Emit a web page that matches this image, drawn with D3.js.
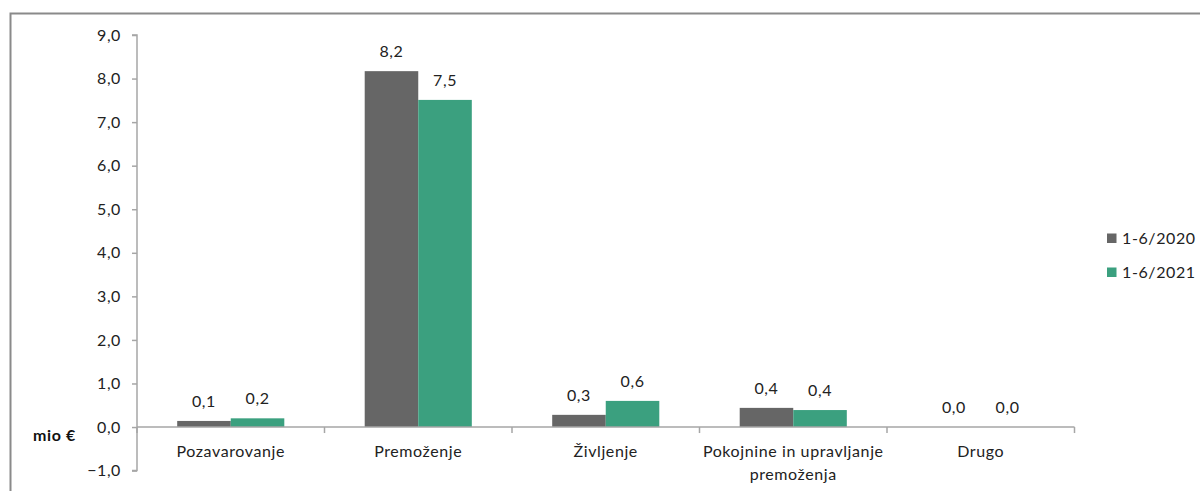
<!DOCTYPE html>
<html><head><meta charset="utf-8">
<script src="https://cdn.jsdelivr.net/npm/d3@7"></script>
<style>
html,body{margin:0;padding:0;background:#fff;}
svg{display:block;font-family:Lato,"Open Sans",sans-serif;}
svg text{letter-spacing:0.6px;}
</style></head>
<body>
<svg id="chart" width="1200" height="491"></svg>
<script>
const categories = ["Pozavarovanje", "Premoženje", "Življenje", "Pokojnine in upravljanje premoženja", "Drugo"];
const seriesNames = ["1-6/2020", "1-6/2021"];
const values2020 = [0.14, 8.17, 0.28, 0.44, 0.0];
const values2021 = [0.20, 7.51, 0.60, 0.39, 0.0];
const labels2020 = ["0,1", "8,2", "0,3", "0,4", "0,0"];
const labels2021 = ["0,2", "7,5", "0,6", "0,4", "0,0"];
const yTicks = [-1, 0, 1, 2, 3, 4, 5, 6, 7, 8, 9];
const colors = ["#666666", "#3BA07F"];

const svg = d3.select("#chart");
// outer border
svg.append("path").attr("d", "M10.5,491 L10.5,13.5 L1200,13.5")
  .attr("fill", "none").attr("stroke", "#8a8a8a").attr("stroke-width", 2);

const x0 = d3.scaleBand().domain(categories).range([137, 1074.5]).paddingInner(0).paddingOuter(0);
const groupPad = 40.2;
const x1 = d3.scaleBand().domain(seriesNames).range([groupPad, x0.bandwidth() - groupPad]);
const y = d3.scaleLinear().domain([-1, 9]).range([470.6, 35]);

const fmt = v => d3.format(".1f")(v).replace(".", ",");
const axisColor = "#a6a6a6";
const fs = "16px";

// Y axis
const yAxis = svg.append("g").attr("transform", "translate(137,0)")
  .call(d3.axisLeft(y).tickValues(yTicks).tickFormat(fmt).tickSize(5).tickPadding(11));
yAxis.select(".domain").attr("stroke", axisColor).attr("stroke-width", 1.5).attr("d", `M-5,${y(-1)}H0V${y(9)}H-5`);
yAxis.selectAll(".tick line").attr("stroke", axisColor).attr("stroke-width", 1.5);
yAxis.selectAll(".tick text").attr("fill", "#222").style("font-size", fs).style("font-family", "Lato");

// bars
const data = categories.map((c, i) => ({c, vals: [values2020[i], values2021[i]], labs: [labels2020[i], labels2021[i]]}));
const g = svg.append("g");
data.forEach(d => {
  d.vals.forEach((v, k) => {
    const s = seriesNames[k];
    const bx = x0(d.c) + x1(s);
    g.append("rect").attr("x", bx).attr("width", x1.bandwidth())
      .attr("y", Math.min(y(v), y(0))).attr("height", Math.abs(y(0) - y(v)))
      .attr("fill", colors[k]);
    g.append("text").attr("x", bx + x1.bandwidth() / 2).attr("y", Math.min(y(v), y(0)) - 14)
      .attr("text-anchor", "middle").attr("fill", "#222").style("font-size", fs)
      .text(d.labs[k]);
  });
});

// X axis at zero
const xAxis = svg.append("g").attr("transform", `translate(0,${y(0)})`);
xAxis.append("line").attr("x1", 137).attr("x2", 1074.5).attr("stroke", axisColor).attr("stroke-width", 1.5);
const tickXs = categories.map(c => x0(c)).concat([x0.range()[1]]);
xAxis.selectAll(".xt").data(tickXs).enter().append("line")
  .attr("x1", d => d).attr("x2", d => d).attr("y1", 0).attr("y2", 6)
  .attr("stroke", axisColor).attr("stroke-width", 1.5);

// category labels (wrap)
categories.forEach(c => {
  const cx = x0(c) + x0.bandwidth() / 2;
  const t = svg.append("text").attr("text-anchor", "middle").attr("fill", "#222").style("font-size", fs);
  let lines = [c];
  if (c.length > 20) lines = ["Pokojnine in upravljanje", "premoženja"];
  lines.forEach((l, i) => t.append("tspan").attr("x", cx).attr("y", 457 + i * 23).text(l));
});

// unit label
svg.append("text").attr("x", 33).attr("y", 441).attr("fill", "#111")
  .style("font-size", fs).style("font-weight", "bold").text("mio €");

// legend
const leg = svg.append("g");
seriesNames.forEach((s, k) => {
  const ly = 233.5 + k * 34;
  leg.append("rect").attr("x", 1107).attr("y", ly).attr("width", 9.5).attr("height", 9.5).attr("fill", colors[k]);
  leg.append("text").attr("x", 1122).attr("y", ly + 10).attr("fill", "#222").style("font-size", fs).text(s);
});
</script>
</body></html>
